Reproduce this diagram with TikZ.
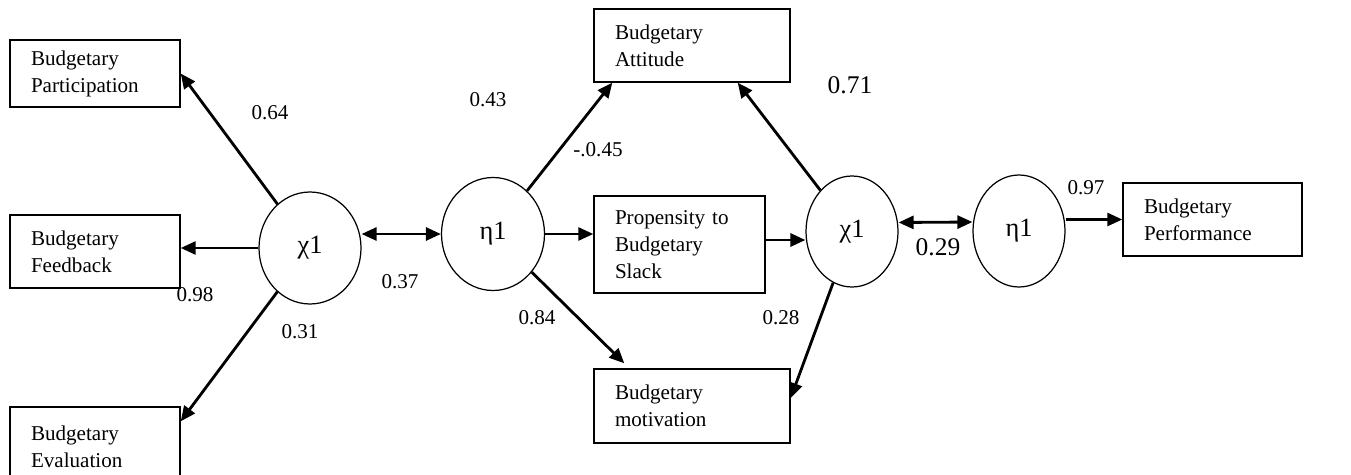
\documentclass[tikz,border=0pt]{standalone}
\usepackage{fontspec}
\setmainfont{Liberation Serif}
\usetikzlibrary{arrows.meta,shapes.geometric}

\tikzset{
  box/.style={draw, line width=0.8pt, inner xsep=0.42cm, inner ysep=0pt, align=left,
    font=\fontsize{12}{15.4}\selectfont},
  latent/.style={draw, ellipse, line width=0.7pt, inner sep=0pt, font=\fontsize{15}{17}\selectfont},
  coef/.style={inner sep=0pt, font=\fontsize{12}{14}\selectfont},
  bigcoef/.style={inner sep=0pt, font=\fontsize{14.5}{16}\selectfont},
  effect/.style={line width=1.6pt, -{Triangle[length=0.3cm,width=0.26cm]}},
  twoway/.style={line width=1.6pt, {Triangle[length=0.3cm,width=0.26cm]}-{Triangle[length=0.3cm,width=0.26cm]}}
}

\begin{document}
\begin{tikzpicture}

\useasboundingbox (0,0) rectangle (27.02,-9.5);

\node[box, text width=2.56cm, minimum height=1.34cm] (part) at (1.9,-1.47) {Budgetary\\Participation};
\node[box, text width=2.56cm, minimum height=1.46cm] (feed) at (1.9,-5.03) {Budgetary\\Feedback};
\node[box, text width=2.56cm, minimum height=1.6cm] (eval) at (1.9,-8.94) {Budgetary\\Evaluation};

\node[latent, minimum width=2.04cm, minimum height=2.24cm] (chiA) at (6.2,-4.96) {χ1};
\node[latent, minimum width=2.06cm, minimum height=2.26cm] (etaA) at (9.86,-4.68) {η1};

\node[box, text width=3.08cm, minimum height=1.46cm] (att) at (13.84,-0.91) {Budgetary\\Attitude};
\node[box, text width=2.58cm, minimum height=1.94cm] (prop) at (13.59,-4.89) {Propensity to\\Budgetary\\Slack};
\node[box, text width=3.08cm, minimum height=1.48cm] (motiv) at (13.84,-8.12) {Budgetary\\motivation};

\node[latent, minimum width=1.84cm, minimum height=2.22cm] (chiB) at (17.04,-4.63) {χ1};
\node[latent, minimum width=1.84cm, minimum height=2.24cm] (etaB) at (20.38,-4.62) {η1};

\node[box, text width=2.74cm, minimum height=1.46cm] (perf) at (24.25,-4.39) {Budgetary\\Performance};

\draw[effect] (chiA) -- (part.east);
\draw[effect] (chiA.west) -- (chiA.west -| feed.east);
\draw[effect] (chiA) -- ([yshift=-0.3cm]eval.north east);
\draw[twoway] (etaA.west -| chiA.east) -- (etaA.west);

\draw[effect] (etaA) -- ([xshift=0.38cm]att.south west);
\draw[effect] (etaA.east) -- (etaA.east -| prop.west);
\draw[effect] (etaA) -- ([xshift=0.62cm,yshift=0.1cm]motiv.north west);
\draw[effect] ([yshift=0.09cm]prop.east) -- ([yshift=0.09cm]prop.east -| chiB.west);

\draw[effect] (chiB) -- ([xshift=-1.06cm]att.south east);
\draw[effect] (chiB) -- ([yshift=0.16cm]motiv.east);
\draw[twoway] ([yshift=0.18cm]chiB.east) -- ([yshift=0.18cm]etaB.west);
\draw[effect] (etaB.east |- perf.west) -- (perf.west);

\node[coef] (c064) at (5.4,-2.26) {0.64};
\node[coef] (c098) at (3.9,-5.9) {0.98};
\node[coef] (c031) at (6.0,-6.64) {0.31};
\node[coef] (c037) at (8.0,-5.64) {0.37};
\node[coef] (c043) at (9.76,-2.0) {0.43};
\node[coef] (c045) at (11.96,-3.0) {-.0.45};
\node[bigcoef] (c071) at (17.0,-1.7) {0.71};
\node[coef] (c084) at (10.74,-6.36) {0.84};
\node[coef] (c028) at (15.62,-6.36) {0.28};
\node[bigcoef] (c029) at (18.76,-4.94) {0.29};
\node[coef] (c097) at (21.72,-3.76) {0.97};

\end{tikzpicture}
\end{document}
